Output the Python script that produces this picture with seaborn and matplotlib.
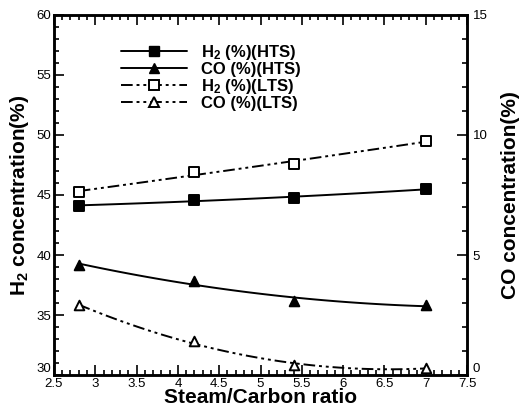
import matplotlib
matplotlib.use('Agg')
import matplotlib.pyplot as plt
from matplotlib.lines import Line2D
from matplotlib.ticker import MultipleLocator, FuncFormatter
import seaborn as sns

# steam/carbon ratios and measured concentrations
sc_ratio = [2.8, 4.2, 5.4, 7.0]
h2_hts = [44.1, 44.6, 44.75, 45.5]
h2_lts = [45.25, 46.9, 47.6, 49.5]
co_hts = [4.6, 3.9, 3.1, 2.9]
co_lts = [2.9, 1.4, 0.4, 0.3]
labels = ['H$_2$ (%)(HTS)', 'CO (%)(HTS)', 'H$_2$ (%)(LTS)', 'CO (%)(LTS)']

sns.set_style('ticks')
plt.rcParams['font.family'] = ['Liberation Sans', 'DejaVu Sans']
plt.rcParams['mathtext.fontset'] = 'custom'
plt.rcParams['mathtext.rm'] = 'Liberation Sans:bold'
plt.rcParams['mathtext.default'] = 'rm'
for key in ['text.color', 'axes.labelcolor', 'xtick.color', 'ytick.color', 'axes.edgecolor']:
    plt.rcParams[key] = 'black'

dashdot = (0, (6, 2, 1.5, 2, 1.5, 2))

fig = plt.figure(figsize=(5.21, 4.12), dpi=100)
ax = fig.add_axes([0.1036, 0.0898, 0.7928, 0.8738])
ax2 = ax.twinx()

def curve(axis, y, marker, face, ls):
    sns.regplot(x=sc_ratio, y=y, ax=axis, order=2, ci=None, truncate=True,
                marker=marker,
                scatter_kws=dict(s=48, facecolors=face, edgecolors='black',
                                 linewidths=1.4, alpha=1, zorder=4),
                line_kws=dict(color='black', lw=1.4, ls=ls))

curve(ax, h2_hts, 's', 'black', '-')
curve(ax, h2_lts, 's', 'white', dashdot)
curve(ax2, co_hts, '^', 'black', '-')
curve(ax2, co_lts, '^', 'white', dashdot)

ax.set_xlim(2.5, 7.5)
ax.set_ylim(30, 60)
ax2.set_ylim(0, 15)
ax.xaxis.set_major_locator(MultipleLocator(0.5))
ax.xaxis.set_minor_locator(MultipleLocator(0.1))
ax.xaxis.set_major_formatter(FuncFormatter(lambda v, p: f'{v:g}'))
ax.yaxis.set_major_locator(MultipleLocator(5))
ax.yaxis.set_minor_locator(MultipleLocator(1))
ax2.yaxis.set_major_locator(MultipleLocator(5))
ax2.yaxis.set_minor_locator(MultipleLocator(1))

ax.tick_params(which='both', direction='in', top=True, labelsize=9.5, width=1.2)
ax.tick_params(which='major', length=7, pad=2)
ax.tick_params(which='minor', length=3.5)
ax2.tick_params(which='both', direction='in', labelsize=9.5, width=1.2)
ax2.tick_params(which='major', length=7, pad=4)
ax2.tick_params(which='minor', length=3.5)
for a in (ax, ax2):
    for sp in a.spines.values():
        sp.set_visible(True)
        sp.set_linewidth(1.8)

ax.set_xlabel('Steam/Carbon ratio', fontsize=15, fontweight='bold', labelpad=-1)
ax.set_ylabel('H$_2$ concentration(%)', fontsize=15, fontweight='bold', labelpad=4)
ax2.set_ylabel('CO concentration(%)', fontsize=15, fontweight='bold', labelpad=10)

handles = [
    Line2D([], [], color='black', lw=1.4, marker='s', mfc='black', mec='black', ms=7),
    Line2D([], [], color='black', lw=1.4, marker='^', mfc='black', mec='black', ms=7),
    Line2D([], [], color='black', lw=1.4, ls=dashdot, marker='s', mfc='white', mec='black', ms=7, mew=1.4),
    Line2D([], [], color='black', lw=1.4, ls=dashdot, marker='^', mfc='white', mec='black', ms=7, mew=1.4),
]
leg = ax.legend(handles, labels, loc='upper left', bbox_to_anchor=(0.125, 0.965),
                frameon=False, handlelength=4.0, handletextpad=0.8, labelspacing=0.0,
                prop=dict(size=12, weight='bold'))

# corner labels (30 and 0) sit just above the bottom axis, as in the original
fig.canvas.draw()
for tick in ax.yaxis.get_major_ticks():
    if abs(tick.get_loc() - 30) < 1e-9:
        tick.label1.set_va('bottom')
for tick in ax2.yaxis.get_major_ticks():
    if abs(tick.get_loc()) < 1e-9:
        tick.label2.set_va('bottom')

fig.savefig('out.png', dpi=100)
